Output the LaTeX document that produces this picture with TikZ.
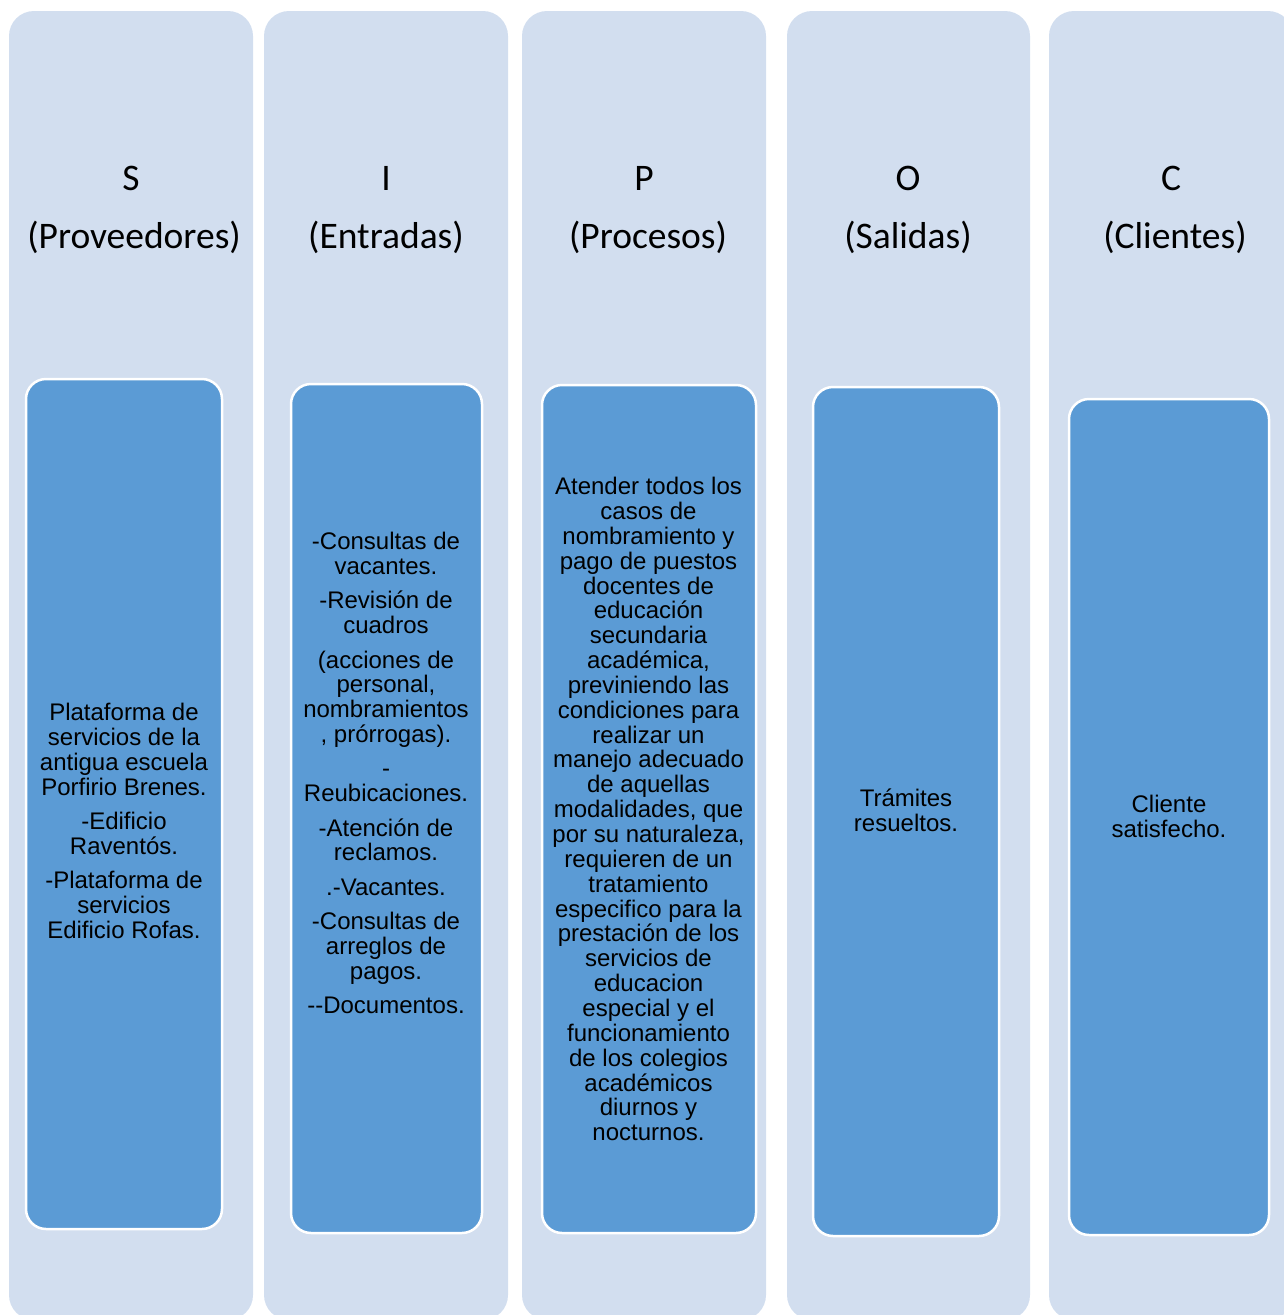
\documentclass[tikz,border=0pt]{standalone}
\usepackage{fontspec}
\setmainfont{Liberation Sans}
\newfontfamily\headfont{Carlito}
\definecolor{colbg}{HTML}{D2DEEF}
\definecolor{boxbg}{HTML}{5B9BD5}
\begin{document}
\begin{tikzpicture}[x=1pt,y=-1pt,
  colshape/.style={fill=colbg,draw=none,rounded corners=25pt},
  boxshape/.style={fill=boxbg,draw=white,line width=2.5pt,rounded corners=20pt},
  headtxt/.style={anchor=base,inner sep=0pt,font=\headfont\fontsize{37.5}{45}\selectfont},
  bodytxt/.style={anchor=north,inner sep=0pt,align=center,font=\fontsize{24}{24.85}\selectfont}]
\useasboundingbox (0,0) rectangle (1283,1315);
% columns
\fill[colshape] (9,11) rectangle (253,1320);
\fill[colshape] (264,11) rectangle (508,1320);
\fill[colshape] (522,11) rectangle (766,1320);
\fill[colshape] (787,11) rectangle (1030,1320);
\fill[colshape] (1049,11) rectangle (1293,1320);
% headers
\node[headtxt] (hS) at (131,190) {S};
\node[headtxt] (hS2) at (134,248) {(Proveedores)};
\node[headtxt] (hI) at (386,190) {I};
\node[headtxt] (hI2) at (386,248) {(Entradas)};
\node[headtxt] (hP) at (644,190) {P};
\node[headtxt] (hP2) at (648,248) {(Procesos)};
\node[headtxt] (hO) at (908,190) {O};
\node[headtxt] (hO2) at (908,248) {(Salidas)};
\node[headtxt] (hC) at (1171,190) {C};
\node[headtxt] (hC2) at (1175,248) {(Clientes)};
% inner boxes
\draw[boxshape] (26,379) rectangle (222,1229);
\draw[boxshape] (291,384) rectangle (482,1233);
\draw[boxshape] (542,385) rectangle (756,1233);
\draw[boxshape] (813,387) rectangle (999,1236);
\draw[boxshape] (1069,399) rectangle (1269,1235);
% texts
\node[bodytxt] (tS) at (124,703) {Plataforma de\\servicios de la\\antigua escuela\\Porfirio Brenes.\\[9.5pt]-Edificio\\Raventós.\\[9.5pt]-Plataforma de\\servicios\\Edificio Rofas.};
\node[bodytxt] (tI) at (386,532) {-Consultas de\\vacantes.\\[9.5pt]-Revisión de\\cuadros\\[9.5pt](acciones de\\personal,\\nombramientos\\, prórrogas).\\[9.5pt]-\\Reubicaciones.\\[9.5pt]-Atención de\\reclamos.\\[9.5pt].-Vacantes.\\[9.5pt]-Consultas de\\arreglos de\\pagos.\\[9.5pt]-{}-Documentos.};
\node[bodytxt] (tP) at (648.5,477) {Atender todos los\\casos de\\nombramiento y\\pago de puestos\\docentes de\\educación\\secundaria\\académica,\\previniendo las\\condiciones para\\realizar un\\manejo adecuado\\de aquellas\\modalidades, que\\por su naturaleza,\\requieren de un\\tratamiento\\especifico para la\\prestación de los\\servicios de\\educacion\\especial y el\\funcionamiento\\de los colegios\\académicos\\diurnos y\\nocturnos.};
\node[bodytxt] (tO) at (906,789) {Trámites\\resueltos.};
\node[bodytxt] (tC) at (1169,795) {Cliente\\satisfecho.};
\end{tikzpicture}
\end{document}
